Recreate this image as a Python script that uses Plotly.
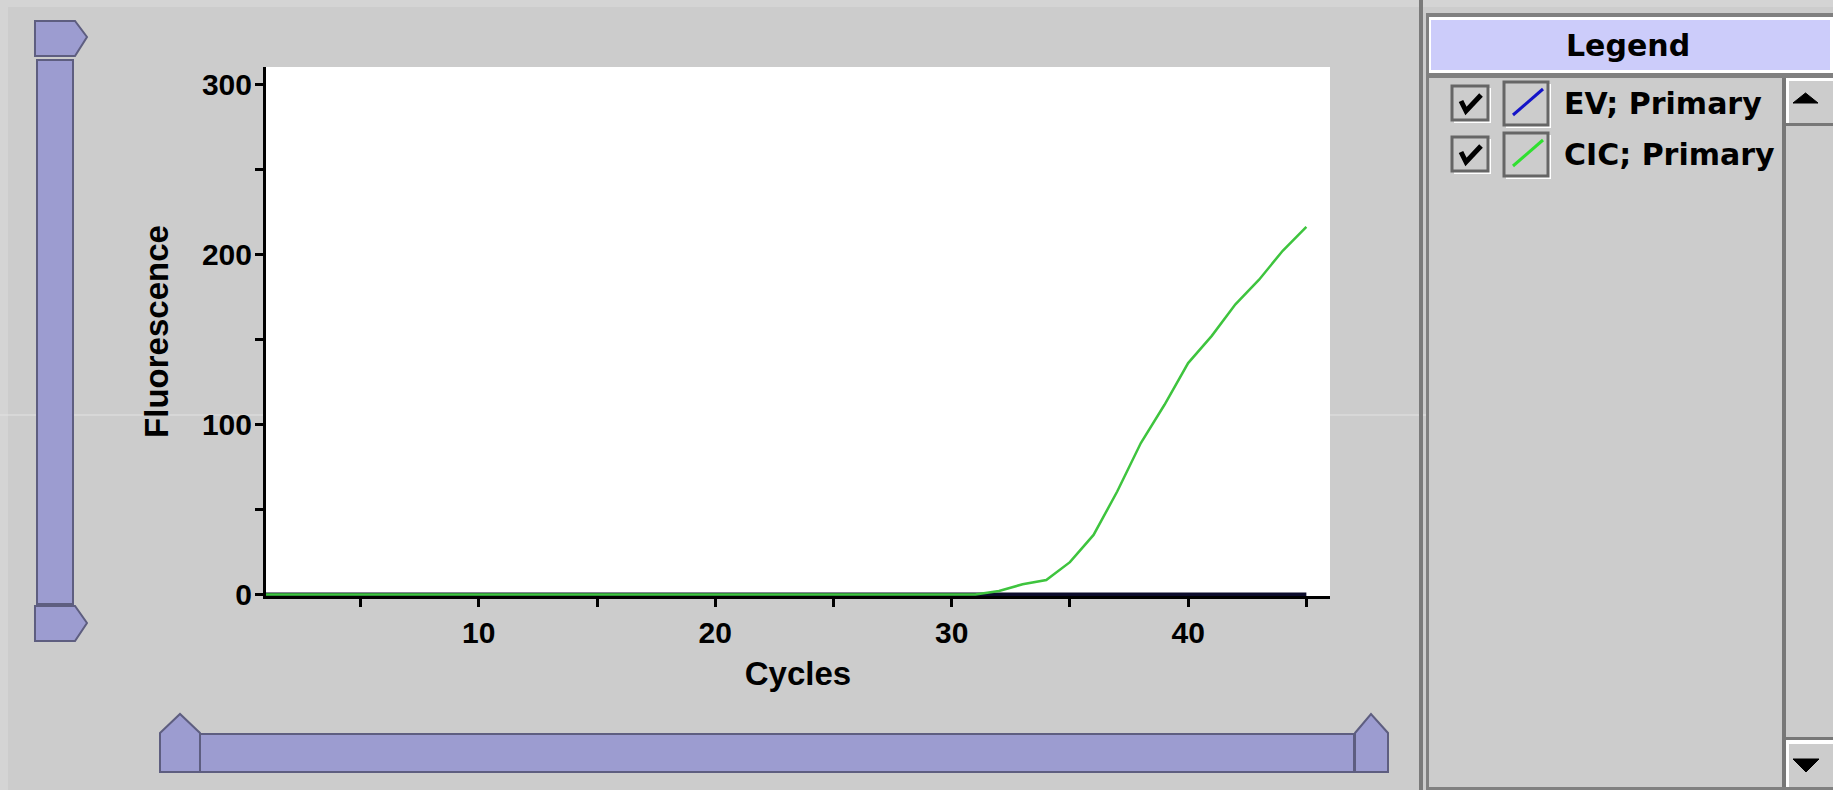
import plotly.graph_objects as go

# ---------------- data ----------------
cycles = [1, 2, 3, 4, 5, 6, 7, 8, 9, 10, 11, 12, 13, 14, 15, 16, 17, 18, 19, 20,
          21, 22, 23, 24, 25, 26, 27, 28, 29, 30, 31, 32, 33, 34, 35, 36, 37, 38,
          39, 40, 41, 42, 43, 44, 45]
ev_primary = [0, 0, 0, 0, 0, 0, 0, 0, 0, 0, 0, 0, 0, 0, 0, 0, 0, 0, 0, 0,
              0, 0, 0, 0, 0, 0, 0, 0, 0, 0, 0, 0, 0, 0, 0, 0, 0, 0,
              0, 0, 0, 0, 0, 0, 0]
cic_primary = [0, 0, 0, 0, 0, 0, 0, 0, 0, 0, 0, 0, 0, 0, 0, 0, 0, 0, 0, 0,
               0, 0, 0, 0, 0, 0, 0, 0, 0, 0, 0, 2, 6, 8.5, 19, 35, 60.5, 89,
               111.5, 136, 152, 170.5, 185, 202, 216]
series_names = ["EV; Primary", "CIC; Primary"]
x_tickvals = [5, 10, 15, 20, 25, 30, 35, 40, 45]
x_ticktext = ["", "10", "", "20", "", "30", "", "40", ""]
y_tickvals = [0, 50, 100, 150, 200, 250, 300]
y_ticktext = ["0", "", "100", "", "200", "", "300"]
x_title = "Cycles"
y_title = "Fluorescence"
legend_title = "Legend"

# ---------------- geometry helpers (pixels -> paper) ----------------
W, H = 1833, 790


def X(p):
    return p / W


def Y(p):
    return 1 - p / H


def path(points):
    s = "M " + " L ".join(f"{X(a):.5f},{Y(b):.5f}" for a, b in points)
    return s + " Z"


def rect(x0, y0, x1, y1, fill, line=None, lw=0, layer="below"):
    return dict(type="rect", xref="paper", yref="paper",
                x0=X(x0), x1=X(x1), y0=Y(y1), y1=Y(y0),
                fillcolor=fill, line=dict(color=line or fill, width=lw),
                layer=layer)


def poly(points, fill, line, lw=2, layer="below"):
    return dict(type="path", xref="paper", yref="paper", path=path(points),
                fillcolor=fill, line=dict(color=line, width=lw), layer=layer)


def seg(x0, y0, x1, y1, color, lw, layer="below"):
    return dict(type="line", xref="paper", yref="paper",
                x0=X(x0), x1=X(x1), y0=Y(y0), y1=Y(y1),
                line=dict(color=color, width=lw), layer=layer)


BG = "#cccccc"
BAR = "#9c9cd0"
BAR_EDGE = "#5e5e80"
series_colors = ["#0c0c2c", "#3ec43e"]
swatch_colors = ["#1414c8", "#30e030"]

fig = go.Figure()
fig.add_trace(go.Scatter(x=cycles, y=ev_primary, mode="lines", name=series_names[0],
                         line=dict(color=series_colors[0], width=4)))
fig.add_trace(go.Scatter(x=cycles, y=cic_primary, mode="lines", name=series_names[1],
                         line=dict(color=series_colors[1], width=2.5)))

shapes = []
# background with slightly lighter outer strip
shapes.append(rect(8, 7, W, H, BG))
shapes.append(seg(0, 415, W, 415, "#e2e2e2", 1))
# plot area
shapes.append(rect(266, 67, 1330, 596, "white"))

# ---- legend panel ----
shapes.append(rect(1419, 0, 1423, H, "#7a7a7a"))
shapes.append(rect(1426, 13, W, H, "#808080"))
shapes.append(rect(1429, 17, W, 73, "white"))
shapes.append(rect(1431, 20, 1830, 70, "#ccccfa"))
shapes.append(rect(1429, 78, W, 787, BG))
# scroll column
shapes.append(rect(1782, 78, 1786, 787, "#777777"))
shapes.append(rect(1786, 78, W, 81, "white"))
shapes.append(rect(1786, 78, 1789, 124, "white"))
shapes.append(rect(1786, 123, W, 126, "#777777"))
shapes.append(poly([(1793, 103), (1805.5, 93), (1818, 103)], "black", "black", 1))
shapes.append(rect(1786, 737, W, 740, "#777777"))
shapes.append(rect(1786, 740, W, 744, "white"))
shapes.append(rect(1786, 740, 1789, 787, "white"))
shapes.append(poly([(1793, 759), (1819, 759), (1806, 772)], "black", "black", 1))

# legend rows (checkbox + swatch)
row_centers = [103, 154]
for i, cy in enumerate(row_centers):
    shapes.append(rect(1454, cy - 15, 1491, cy + 20, "white"))
    shapes.append(rect(1452, cy - 17, 1488, cy + 17, BG, "#666666", 3))
    shapes.append(dict(type="path", xref="paper", yref="paper",
                       path=f"M {X(1461):.5f},{Y(cy - 2):.5f} L {X(1466):.5f},{Y(cy + 8):.5f} L {X(1481):.5f},{Y(cy - 8):.5f}",
                       line=dict(color="black", width=5), layer="below"))
    shapes.append(rect(1506, cy - 19, 1551, cy + 25, "white"))
    shapes.append(rect(1504, cy - 21, 1548, cy + 22, BG, "#666666", 3))
    shapes.append(seg(1513, cy + 12, 1543, cy - 14, swatch_colors[i], 3))

# ---- left vertical scrollbar ----
shapes.append(poly([(35, 21), (75, 21), (87, 37), (75, 56), (35, 56)], BAR, BAR_EDGE))
shapes.append(rect(37, 60, 73, 604, BAR, BAR_EDGE, 2))
shapes.append(poly([(35, 606), (75, 606), (87, 623), (75, 641), (35, 641)], BAR, BAR_EDGE))
# ---- bottom horizontal scrollbar ----
shapes.append(poly([(160, 733), (180, 714), (200, 733), (200, 772), (160, 772)], BAR, BAR_EDGE))
shapes.append(rect(200, 734, 1354, 772, BAR, BAR_EDGE, 2))
shapes.append(poly([(1355, 733), (1371, 714), (1388, 733), (1388, 772), (1355, 772)], BAR, BAR_EDGE))

annotations = [
    dict(x=X(1628), y=Y(46), xref="paper", yref="paper", text=legend_title,
         showarrow=False, xanchor="center", yanchor="middle",
         font=dict(family="DejaVu Sans", size=30, color="black", weight="bold")),
]
for i, cy in enumerate(row_centers):
    annotations.append(dict(x=X(1562), y=Y(cy), xref="paper", yref="paper",
                            text=series_names[i], showarrow=False,
                            xanchor="left", yanchor="middle",
                            font=dict(family="DejaVu Sans", size=30, color="black",
                                      weight="bold")))

tickfont = dict(family="Liberation Sans, Arial", size=30, color="black", weight="bold")
titlefont = dict(family="Liberation Sans, Arial", size=33, color="black", weight="bold")

fig.update_layout(
    width=W, height=H,
    margin=dict(l=0, r=0, t=0, b=0, pad=0),
    paper_bgcolor="#d4d4d4",
    plot_bgcolor="rgba(0,0,0,0)",
    showlegend=False,
    shapes=shapes,
    annotations=annotations,
    xaxis=dict(domain=[X(266), X(1330)], range=[1, 46], showgrid=False, zeroline=False,
               showline=True, linecolor="black", linewidth=3,
               ticks="outside", ticklen=8, tickwidth=3, tickcolor="black",
               tickmode="array", tickvals=x_tickvals, ticktext=x_ticktext,
               tickfont=tickfont, automargin=False,
               title=dict(text=x_title, font=titlefont, standoff=14)),
    yaxis=dict(domain=[Y(596), Y(67)], range=[-0.9, 310], showgrid=False, zeroline=False,
               showline=True, linecolor="black", linewidth=3,
               ticks="outside", ticklen=8, tickwidth=3, tickcolor="black",
               tickmode="array", tickvals=y_tickvals, ticktext=y_ticktext,
               tickfont=tickfont, automargin=False, ticklabelstandoff=-3,
               title=dict(text=y_title, font=titlefont, standoff=24)),
)

fig.write_html("out.html", config={"displayModeBar": False},
               post_script="document.body.style.margin='0';document.body.style.overflow='hidden';")
